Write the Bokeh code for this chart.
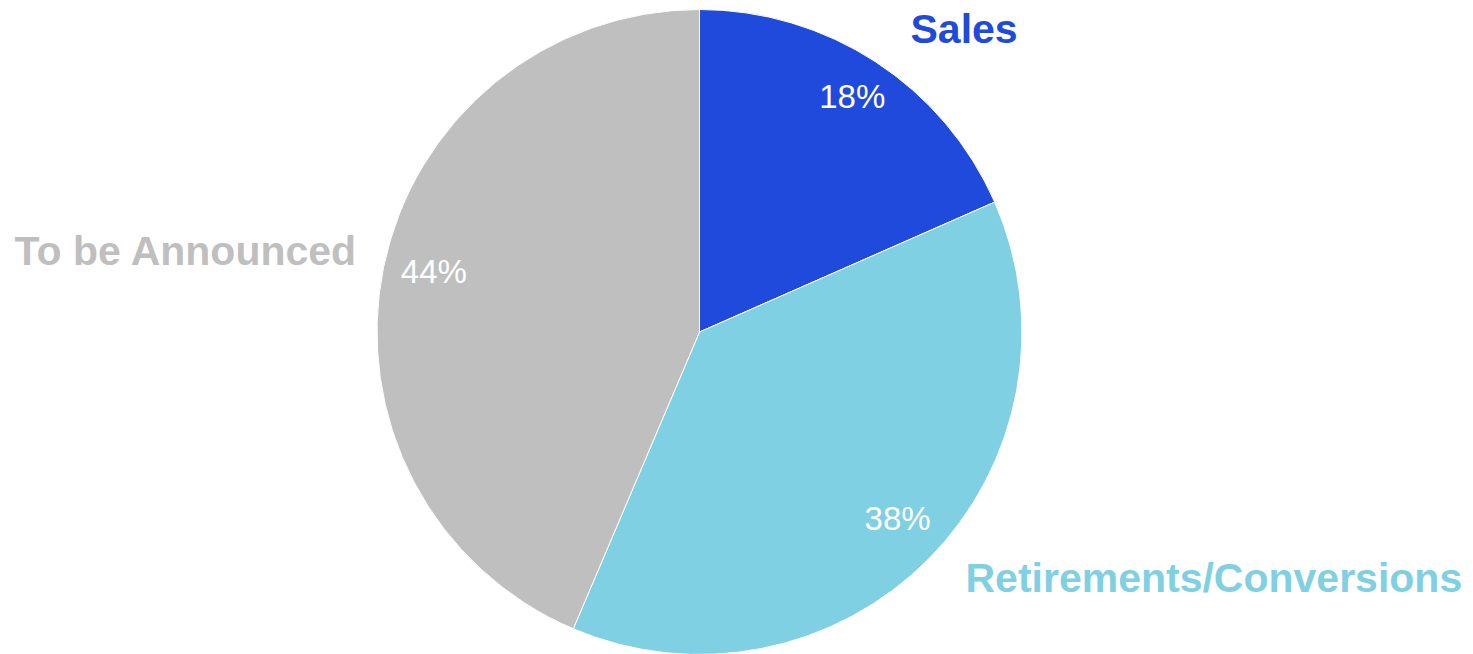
import math
from bokeh.plotting import figure
from bokeh.models import Range1d, ColumnDataSource
from bokeh.core.properties import value
from bokeh.embed import file_html
from bokeh.resources import INLINE

# ---- data ----
categories = ["Sales", "Retirements/Conversions", "To be Announced"]
shares = [18.4, 38.0, 43.6]
pct_labels = ["18%", "38%", "44%"]
colors = ["#1F4ADB", "#7FD0E3", "#BFBFBF"]

# ---- layout (screen-like coordinates, y up) ----
W, H = 1473, 654
cx, cy, R = 699, H - 331.5, 322.5
cat_x = [910, 965, 14]
cat_y = [H - 28, H - 577, H - 250]
pct_r = 0.85
pct_dx, pct_dy = 3, 6

total = sum(shares)
starts, ends, mids = [], [], []
acc = 0.0
for s in shares:
    a0 = math.pi / 2 - 2 * math.pi * acc / total
    acc += s
    a1 = math.pi / 2 - 2 * math.pi * acc / total
    starts.append(a0)
    ends.append(a1)
    mids.append((a0 + a1) / 2)

src = ColumnDataSource(dict(start=starts, end=ends, color=colors, cat=categories))

p = figure(width=W, height=H, output_backend="svg", toolbar_location=None,
           x_range=Range1d(0, W), y_range=Range1d(0, H),
           x_axis_location=None, y_axis_location=None, min_border=0)
p.outline_line_color = None
p.xgrid.visible = False
p.ygrid.visible = False
p.background_fill_color = "white"
p.border_fill_color = "white"

p.wedge(x=cx, y=cy, radius=R, start_angle="start", end_angle="end",
        direction="clock", fill_color="color", line_color="white",
        line_width=1, source=src)

px = [cx + pct_r * R * math.cos(m) + pct_dx for m in mids]
py = [cy + pct_r * R * math.sin(m) + pct_dy for m in mids]
p.text(x=px, y=py, text=pct_labels, text_color="white",
       text_font=value("Liberation Sans"), text_font_size="33px",
       text_align="center", text_baseline="middle")

p.text(x=cat_x, y=cat_y, text=categories, text_color=colors,
       text_font=value("Liberation Sans"), text_font_size="41px",
       text_font_style="bold", text_align="left", text_baseline="middle")

open("out.html", "w").write(file_html(p, INLINE))
